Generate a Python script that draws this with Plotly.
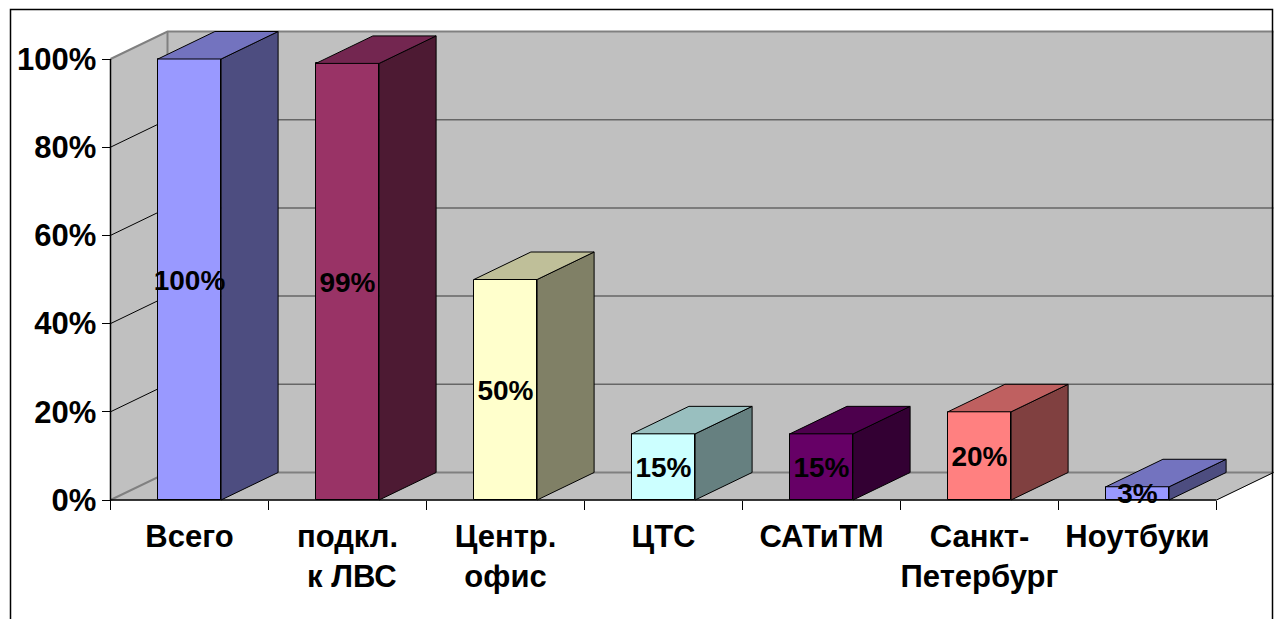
"""
    3D-looking percent columns drawn on a flat cartesian subplot
"""

import plotly.graph_objs as go

categories = ["Всего", "подкл.<br>\u00a0к ЛВС", "Центр.<br>офис", "ЦТС", "САТиТМ", "Санкт-<br>Петербург", "Ноутбуки"]
values = [100, 99, 50, 15, 15, 20, 3]
value_labels = ["100%", "99%", "50%", "15%", "15%", "20%", "3%"]
front_colors = ["#9999FF", "#993366", "#FFFFCC", "#CCFFFF", "#660066", "#FF8080", "#9999FF"]
top_colors = ["#7373BF", "#732650", "#BFBF99", "#99BFBF", "#4D004D", "#BF6060", "#7373BF"]
side_colors = ["#4D4D80", "#4D1A33", "#808066", "#668080", "#330033", "#804040", "#4D4D80"]
y_ticks = [0, 20, 40, 60, 80, 100]
y_tick_labels = ["0%", "20%", "40%", "60%", "80%", "100%"]

WIDTH, HEIGHT = 1275, 619
X_STEP = 158.0      # px per category
Y_STEP = 4.41       # px per percent
X_ZERO = 189.5      # px of first category
Y_ZERO = 500.0      # px of 0%
BAR_WIDTH = 0.4
DEPTH_X = 57 / X_STEP
DEPTH_Y = 27.5 / Y_STEP
LABEL_DROP = 3 / Y_STEP     # value labels sit a little under the bar middle
LEFT, RIGHT = -0.5, len(categories) - 0.5
WALL = "#C0C0C0"
FONT = "Liberation Sans"


def poly(xs, ys, fill=None, line="black", width=1):
    """ a closed or open polygon as a layout shape, kept under the traces """
    path = "M " + " L ".join("{},{}".format(x, y) for x, y in zip(xs, ys))
    if fill:
        path += " Z"
    return dict(type="path", path=path, layer="below", xref="x", yref="y",
                fillcolor=fill or "rgba(0,0,0,0)", line=dict(color=line, width=width))


shapes = [
    # walls and floor
    poly([LEFT, LEFT + DEPTH_X, LEFT + DEPTH_X, LEFT], [0, DEPTH_Y, 100 + DEPTH_Y, 100], WALL, WALL),
    poly([LEFT + DEPTH_X, RIGHT + DEPTH_X, RIGHT + DEPTH_X, LEFT + DEPTH_X],
         [DEPTH_Y, DEPTH_Y, 100 + DEPTH_Y, 100 + DEPTH_Y], WALL, WALL),
    poly([LEFT, LEFT + DEPTH_X, RIGHT + DEPTH_X, RIGHT], [0, DEPTH_Y, DEPTH_Y, 0], WALL, WALL),
]
for tick in y_ticks[1:-1]:
    shapes.append(poly([LEFT, LEFT + DEPTH_X], [tick, tick + DEPTH_Y], None, "#000000", 1))
    shapes.append(poly([LEFT + DEPTH_X, RIGHT + DEPTH_X], [tick + DEPTH_Y] * 2, None, "#666666", 1.5))
shapes += [
    poly([LEFT, LEFT + DEPTH_X, RIGHT + DEPTH_X], [100, 100 + DEPTH_Y, 100 + DEPTH_Y], None, "#808080", 2),
    poly([LEFT, LEFT + DEPTH_X, RIGHT + DEPTH_X], [0, DEPTH_Y, DEPTH_Y], None, "#808080", 2),
    poly([LEFT + DEPTH_X] * 2, [DEPTH_Y, 100 + DEPTH_Y], None, "#808080", 2),
    poly([RIGHT, RIGHT + DEPTH_X], [0, DEPTH_Y], None, "#000000", 1),
    poly([LEFT, LEFT], [0, 100], None, "#000000", 1.5),
    poly([LEFT, RIGHT], [0, 0], None, "#000000", 1.5),
    # chart frame, open at the bottom of the page
    dict(type="rect", xref="paper", yref="paper", layer="above",
         x0=10.5 / WIDTH, x1=1272.5 / WIDTH, y0=-0.1, y1=1 - 9.5 / HEIGHT,
         line=dict(color="black", width=1.5)),
]

positions = list(range(len(categories)))

data = [go.Bar(x=positions, y=values, width=BAR_WIDTH, marker=dict(color=front_colors, line=dict(color="black", width=1)),
               hoverinfo="skip")]

for pos, value, top, side in zip(positions, values, top_colors, side_colors):
    x0, x1 = pos - BAR_WIDTH / 2, pos + BAR_WIDTH / 2
    data.append(go.Scatter(x=[x1, x1 + DEPTH_X, x1 + DEPTH_X, x1, x1],
                           y=[0, DEPTH_Y, value + DEPTH_Y, value, 0],
                           mode="lines", fill="toself", fillcolor=side, line=dict(color="black", width=1)))
    data.append(go.Scatter(x=[x0, x0 + DEPTH_X, x1 + DEPTH_X, x1, x0],
                           y=[value, value + DEPTH_Y, value + DEPTH_Y, value, value],
                           mode="lines", fill="toself", fillcolor=top, line=dict(color="black", width=1)))

data.append(go.Scatter(x=positions, y=[v / 2 - LABEL_DROP for v in values], text=value_labels, mode="text",
                       textposition="middle center", cliponaxis=False,
                       textfont=dict(family=FONT, size=28, color="black", weight=700)))

tick_font = dict(family=FONT, size=31, color="black", weight=700)

layout = go.Layout(
    width=WIDTH, height=HEIGHT, showlegend=False, autosize=False,
    margin=dict(l=0, r=0, t=0, b=0), paper_bgcolor="white", plot_bgcolor="white",
    bargap=0, shapes=shapes,
    xaxis=dict(range=[-X_ZERO / X_STEP, (WIDTH - X_ZERO) / X_STEP], domain=[0, 1], anchor="free",
               position=(HEIGHT - Y_ZERO) / HEIGHT, showgrid=False, zeroline=False, showline=False,
               tickmode="array", tickvals=positions, ticktext=categories, ticks="", tickfont=tick_font,
               ticklabelstandoff=15,
               minor=dict(tickmode="array", tickvals=[p - 0.5 for p in positions] + [RIGHT],
                          ticks="outside", ticklen=9, tickwidth=1, tickcolor="#000000", showgrid=False)),
    yaxis=dict(range=[(Y_ZERO - HEIGHT) / Y_STEP, Y_ZERO / Y_STEP], domain=[0, 1], anchor="free",
               position=(LEFT + X_ZERO / X_STEP) * X_STEP / WIDTH, showgrid=False, zeroline=False, showline=False,
               tickmode="array", tickvals=y_ticks, ticktext=y_tick_labels, ticks="outside", ticklen=9,
               tickwidth=1, tickcolor="#000000", tickfont=tick_font, ticklabelstandoff=-1),
)

fig = go.Figure(data=data, layout=layout)
fig.write_html("out.html", config={"displayModeBar": False}, post_script="document.body.style.margin='0';")
